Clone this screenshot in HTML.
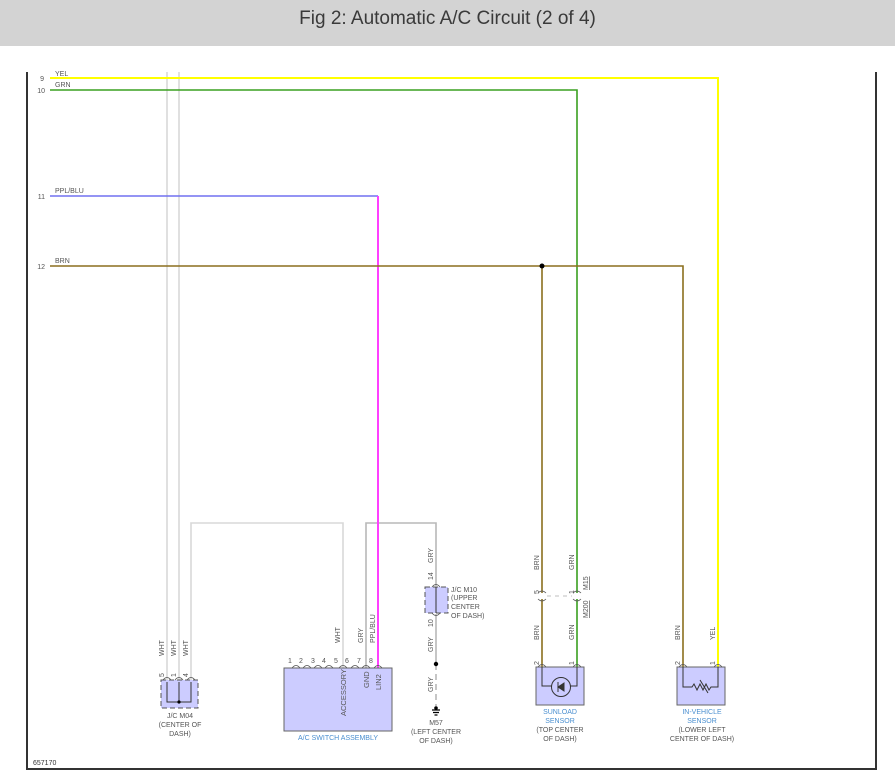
<!DOCTYPE html>
<html><head><meta charset="utf-8"><style>
html,body{margin:0;padding:0;background:#fff;width:895px;height:783px;overflow:hidden}
.hdr{position:absolute;left:0;top:0;width:895px;height:46px;background:#d3d3d3;text-align:center;font:19px "Liberation Sans",sans-serif;color:#3a3a3a;line-height:38px}
svg{position:absolute;left:0;top:0}
text{font-family:"Liberation Sans",sans-serif;fill:#555}
</style></head><body>
<div class="hdr">Fig 2: Automatic A/C Circuit (2 of 4)</div>
<svg width="895" height="783" viewBox="0 0 895 783">
<path d="M27 72 V769 H876 V72" fill="none" stroke="#333" stroke-width="2"/>
<g font-size="7" text-anchor="end"><text x="44" y="81">9</text><text x="45" y="93">10</text><text x="45" y="199">11</text><text x="45" y="269">12</text></g>
<g font-size="7"><text x="55" y="76">YEL</text><text x="55" y="87">GRN</text><text x="55" y="193">PPL/BLU</text><text x="55" y="263">BRN</text></g>
<g stroke="#d8d8d8" stroke-width="1.6" fill="none">
<path d="M167 72 V682"/><path d="M179 72 V682"/><path d="M191 682 V523 H343 V668"/>
</g>
<g stroke="#b8b8b8" stroke-width="1.6" fill="none">
<path d="M366 668 V523 H436 V586"/><path d="M436 614 V664"/><path d="M436 664 V706" stroke-dasharray="6 4"/>
</g>
<path d="M50 78 H718 V668" stroke="#ffff00" stroke-width="2" fill="none"/>
<path d="M50 90 H577 V668" stroke="#3aa020" stroke-width="1.6" fill="none"/>
<path d="M50 196 H378" stroke="#7070f0" stroke-width="1.6" fill="none"/>
<path d="M378 196 V668" stroke="#ff40ff" stroke-width="2" fill="none"/>
<path d="M50 266 H683 V668 M542 266 V668" stroke="#8b6f1e" stroke-width="1.6" fill="none"/>
<circle cx="542" cy="266" r="2.5" fill="#000"/>
<rect x="538" y="593" width="8" height="6" fill="#fff"/><rect x="573" y="593" width="8" height="6" fill="#fff"/>
<path d="M538 593 q4 -4 8 0 M538 599 q4 4 8 0 M573 593 q4 -4 8 0 M573 599 q4 4 8 0" stroke="#555" fill="none" stroke-width="0.8"/>
<path d="M547 596 H572" stroke="#aaa" stroke-dasharray="4 4" stroke-width="0.8"/>
<rect x="161" y="680" width="37" height="28" fill="#ccccff" stroke="#555" stroke-dasharray="5 3"/>
<path d="M167 682 V702 H191 V682 M179 682 V702" stroke="#333" fill="none"/>
<circle cx="179" cy="702" r="1.6" fill="#000"/>
<rect x="284" y="668" width="108" height="63" fill="#ccccff" stroke="#666"/>
<g fill="none" stroke="#555" stroke-width="0.8">
<path d="M292 668 q4 -5 8 0 M303 668 q4 -5 8 0 M314 668 q4 -5 8 0 M325 668 q4 -5 8 0 M339 668 q4 -5 8 0 M351 668 q4 -5 8 0 M362 668 q4 -5 8 0 M374 668 q4 -5 8 0"/>
</g>
<g font-size="7"><text x="288" y="663">1</text><text x="299" y="663">2</text><text x="311" y="663">3</text><text x="322" y="663">4</text><text x="334" y="663">5</text><text x="345" y="663">6</text><text x="357" y="663">7</text><text x="369" y="663">8</text></g>
<g font-size="7.5"><text transform="translate(346,716) rotate(-90)">ACCESSORY</text><text transform="translate(369,688) rotate(-90)">GND</text><text transform="translate(381,690) rotate(-90)">LIN2</text></g>
<text x="338" y="740" font-size="7" text-anchor="middle" style="fill:#4a8fd0">A/C SWITCH ASSEMBLY</text>
<rect x="425" y="587" width="23" height="26" fill="#ccccff" stroke="#555" stroke-dasharray="5 3"/>
<path d="M436 587 V613" stroke="#333"/>
<g font-size="7"><text x="451" y="592">J/C M10</text><text x="451" y="600">(UPPER</text><text x="451" y="609">CENTER</text><text x="451" y="618">OF DASH)</text></g>
<circle cx="436" cy="664" r="2.2" fill="#000"/>
<path d="M432 710 h8 M433 712.5 h6 M434.5 715 h3" stroke="#000" stroke-width="1.3"/><circle cx="436" cy="708" r="1.8" fill="#000"/>
<g font-size="7" text-anchor="middle"><text x="436" y="725">M57</text><text x="436" y="734">(LEFT CENTER</text><text x="436" y="743">OF DASH)</text></g>
<rect x="536" y="667" width="48" height="38" fill="#ccccff" stroke="#666"/>
<path d="M542 667 V686 H552 M570 686 H577 V667" stroke="#333" fill="none"/>
<circle cx="561" cy="687" r="9.5" fill="none" stroke="#333"/>
<path d="M558 682 V692 M558 687 L564 683 V691 Z" stroke="#333" fill="#333"/>
<text x="560" y="714" font-size="7" text-anchor="middle" style="fill:#4a8fd0">SUNLOAD</text>
<text x="560" y="723" font-size="7" text-anchor="middle" style="fill:#4a8fd0">SENSOR</text>
<g font-size="7" text-anchor="middle"><text x="560" y="732">(TOP CENTER</text><text x="560" y="741">OF DASH)</text></g>
<rect x="677" y="667" width="48" height="38" fill="#ccccff" stroke="#666"/>
<path d="M683 667 V687 H692 l2 -3 l3 6 l3 -6 l3 6 l3 -6 l3 6 l2 -3 H718 V667 M700 680 L708 693" stroke="#333" fill="none"/>
<text x="702" y="714" font-size="7" text-anchor="middle" style="fill:#4a8fd0">IN-VEHICLE</text>
<text x="702" y="723" font-size="7" text-anchor="middle" style="fill:#4a8fd0">SENSOR</text>
<g font-size="7" text-anchor="middle"><text x="702" y="732">(LOWER LEFT</text><text x="702" y="741">CENTER OF DASH)</text></g>
<g font-size="7" text-anchor="middle"><text x="180" y="718">J/C M04</text><text x="180" y="727">(CENTER OF</text><text x="180" y="736">DASH)</text></g>
<g fill="none" stroke="#555" stroke-width="0.8">
<path d="M163 680 q4 -5 8 0 M175 680 q4 -5 8 0 M187 680 q4 -5 8 0"/>
<path d="M538 667 q4 -5 8 0 M573 667 q4 -5 8 0 M679 667 q4 -5 8 0 M714 667 q4 -5 8 0"/>
<path d="M432 587 q4 -5 8 0 M432 613 q4 5 8 0"/>
</g>
<g font-size="7">
<text transform="translate(164,656) rotate(-90)">WHT</text>
<text transform="translate(176,656) rotate(-90)">WHT</text>
<text transform="translate(188,656) rotate(-90)">WHT</text>
<text transform="translate(164,677) rotate(-90)">5</text>
<text transform="translate(176,677) rotate(-90)">1</text>
<text transform="translate(188,677) rotate(-90)">4</text>
<text transform="translate(340,643) rotate(-90)">WHT</text>
<text transform="translate(363,643) rotate(-90)">GRY</text>
<text transform="translate(375,643) rotate(-90)">PPL/BLU</text>
<text transform="translate(433,563) rotate(-90)">GRY</text>
<text transform="translate(433,580) rotate(-90)">14</text>
<text transform="translate(433,627) rotate(-90)">10</text>
<text transform="translate(433,652) rotate(-90)">GRY</text>
<text transform="translate(433,692) rotate(-90)">GRY</text>
<text transform="translate(539,570) rotate(-90)">BRN</text>
<text transform="translate(574,570) rotate(-90)">GRN</text>
<text transform="translate(539,594) rotate(-90)">5</text>
<text transform="translate(574,594) rotate(-90)">1</text>
<text transform="translate(588,590) rotate(-90)" text-decoration="underline">M15</text>
<text transform="translate(588,618) rotate(-90)" text-decoration="underline">M200</text>
<text transform="translate(539,640) rotate(-90)">BRN</text>
<text transform="translate(574,640) rotate(-90)">GRN</text>
<text transform="translate(539,665) rotate(-90)">2</text>
<text transform="translate(574,665) rotate(-90)">1</text>
<text transform="translate(680,640) rotate(-90)">BRN</text>
<text transform="translate(715,640) rotate(-90)">YEL</text>
<text transform="translate(680,665) rotate(-90)">2</text>
<text transform="translate(715,665) rotate(-90)">1</text>
</g>
<text x="33" y="765" font-size="7" style="fill:#333">657170</text>
</svg>
</body></html>
